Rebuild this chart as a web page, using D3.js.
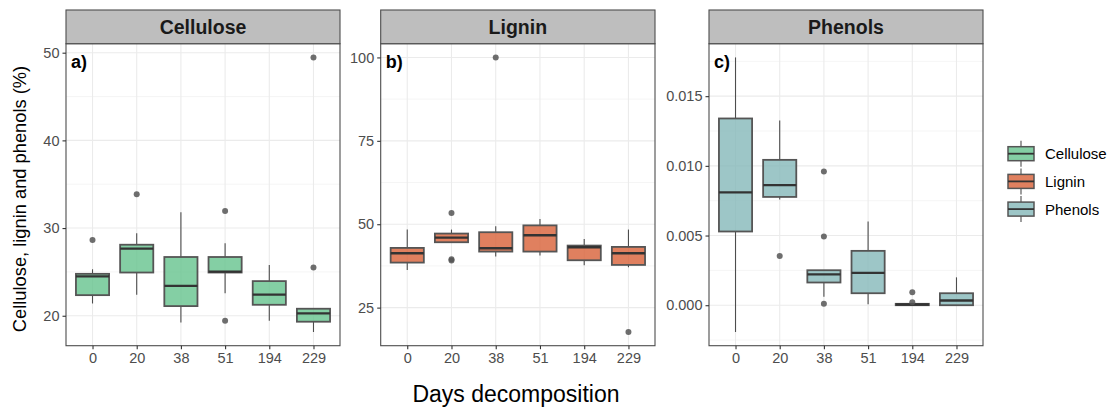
<!DOCTYPE html>
<html><head><meta charset="utf-8">
<script src="https://cdn.jsdelivr.net/npm/d3@7"></script>
<style>body{margin:0;background:#fff}svg{display:block;font-family:"Liberation Sans",Arial,sans-serif}</style>
</head><body><svg id="c" width="1114" height="408"></svg>
<script>
const days = ["0","20","38","51","194","229"];
const seriesNames = ["Cellulose","Lignin","Phenols"];
const panelLabels = ["a)","b)","c)"];
// five-number summaries per day: [lower whisker, q1, median, q3, upper whisker]
const celluloseStats = [
  [21.4,22.35,24.5,24.78,25.3],
  [22.4,24.93,27.66,28.1,29.4],
  [19.24,21.1,23.4,26.7,31.8],
  [22.58,24.93,25.04,26.7,28.27],
  [19.43,21.25,22.42,23.95,25.8],
  [18.15,19.32,20.26,20.8,20.8]
];
const celluloseOutliers = [[28.65],[33.85],[],[31.95,19.43],[],[25.5,49.46]];
const ligninStats = [
  [36.3,38.5,41.3,42.9,48.4],
  [44.6,44.6,46.0,47.2,48.4],
  [40.3,41.8,42.8,47.6,49.4],
  [40.6,41.8,46.7,49.65,51.55],
  [37.7,39.2,43.1,43.6,45.6],
  [37.1,37.8,41.3,43.2,48.4]
];
const ligninOutliers = [[],[53.35,39.1,39.5],[100],[],[],[17.7]];
const phenolsStats = [
  [-0.00192,0.00529,0.00809,0.0134,0.01778],
  [0.00758,0.00777,0.00861,0.01043,0.01325],
  [0.0006,0.00163,0.00222,0.00251,0.00251],
  [0.00007,0.00086,0.00232,0.0039,0.006],
  [0.0,0.0,0.00005,0.0001,0.0001],
  [0.0,0.0,0.00034,0.00086,0.002]
];
const phenolsOutliers = [[],[0.00354],[0.0096,0.00493,0.0001],[],[0.00093,0.00022],[]];
const celluloseTicks = [20,30,40,50];
const ligninTicks = [25,50,75,100];
const phenolsTicks = [0,0.005,0.010,0.015];
const celluloseMinor = [25,35,45];
const ligninMinor = [37.5,62.5,87.5];
const phenolsMinor = [-0.0025,0.0025,0.0075,0.0125,0.0175];

const fills = ["#65c38d","#d86037","#85b8b9"];
const panels = [
  {stats:celluloseStats,out:celluloseOutliers,ticks:celluloseTicks,minor:celluloseMinor,fmt:d3.format("d"),x0:66,x1:340},
  {stats:ligninStats,out:ligninOutliers,ticks:ligninTicks,minor:ligninMinor,fmt:d3.format("d"),x0:380.7,x1:655},
  {stats:phenolsStats,out:phenolsOutliers,ticks:phenolsTicks,minor:phenolsMinor,fmt:d3.format(".3f"),x0:709,x1:983}
];
const stripTop=10, stripBot=43.7, panBot=345.7;
const svg = d3.select("#c");

panels.forEach((p,i)=>{
  const all = p.stats.flat().concat(p.out.flat());
  const lo=d3.min(all), hi=d3.max(all), ex=(hi-lo)*0.05;
  const y = d3.scaleLinear().domain([lo-ex,hi+ex]).range([panBot,stripBot]);
  const w=p.x1-p.x0, unit=w/6.2;
  const x = d3.scalePoint().domain(days).range([p.x0+0.6*unit,p.x1-0.6*unit]);
  const g = svg.append("g");
  // grid
  g.selectAll(".mn").data(p.minor.filter(v=>v>y.domain()[0]&&v<y.domain()[1])).join("line")
    .attr("x1",p.x0).attr("x2",p.x1).attr("y1",d=>y(d)).attr("y2",d=>y(d)).attr("stroke","#f2f2f2").attr("stroke-width",0.8);
  g.selectAll(".mj").data(p.ticks).join("line")
    .attr("x1",p.x0).attr("x2",p.x1).attr("y1",d=>y(d)).attr("y2",d=>y(d)).attr("stroke","#ebebeb").attr("stroke-width",1.1);
  g.selectAll(".vx").data(days).join("line")
    .attr("x1",d=>x(d)).attr("x2",d=>x(d)).attr("y1",stripBot).attr("y2",panBot).attr("stroke","#ebebeb").attr("stroke-width",1.1);
  const bw = unit*0.75;
  days.forEach((d,j)=>{
    const s=p.stats[j], cx=x(d);
    g.append("line").attr("x1",cx).attr("x2",cx).attr("y1",y(s[0])).attr("y2",y(s[1])).attr("stroke","#4d4d4d").attr("stroke-width",1.1);
    g.append("line").attr("x1",cx).attr("x2",cx).attr("y1",y(s[3])).attr("y2",y(s[4])).attr("stroke","#4d4d4d").attr("stroke-width",1.1);
    g.append("rect").attr("x",cx-bw/2).attr("width",bw).attr("y",y(s[3])).attr("height",Math.max(0.01,y(s[1])-y(s[3])))
      .attr("fill",fills[i]).attr("fill-opacity",0.8).attr("stroke","#555").attr("stroke-width",1.8);
    g.append("line").attr("x1",cx-bw/2).attr("x2",cx+bw/2).attr("y1",y(s[2])).attr("y2",y(s[2])).attr("stroke","#333").attr("stroke-width",2.3);
    g.selectAll(null).data(p.out[j]).join("circle").attr("cx",cx).attr("cy",v=>y(v)).attr("r",3).attr("fill","#555").attr("fill-opacity",0.85);
  });
  // panel border
  g.append("rect").attr("x",p.x0).attr("y",stripBot).attr("width",w).attr("height",panBot-stripBot).attr("fill","none").attr("stroke","#4d4d4d").attr("stroke-width",1.1);
  // strip
  g.append("rect").attr("x",p.x0).attr("y",stripTop).attr("width",w).attr("height",stripBot-stripTop).attr("fill","#bebebe").attr("stroke","#4d4d4d").attr("stroke-width",1.1);
  g.append("text").attr("x",(p.x0+p.x1)/2).attr("y",(stripTop+stripBot)/2+7).attr("text-anchor","middle")
    .attr("font-size",19.5).attr("font-weight","bold").attr("fill","#1a1a1a").text(seriesNames[i]);
  g.append("text").attr("x",p.x0+5).attr("y",stripBot+24).attr("font-size",18).attr("font-weight","bold").attr("fill","#000").text(panelLabels[i]);
  // axes
  const ya = g.append("g").attr("transform",`translate(${p.x0},0)`).call(d3.axisLeft(y).tickValues(p.ticks).tickFormat(p.fmt).tickSize(3.5).tickPadding(3));
  const xa = g.append("g").attr("transform",`translate(0,${panBot})`).call(d3.axisBottom(x).tickSize(3.5).tickPadding(4));
  [ya,xa].forEach(a=>{a.select(".domain").remove();a.selectAll(".tick line").attr("stroke","#333").attr("stroke-width",1.1);
    a.selectAll("text").attr("fill","#4d4d4d").attr("font-size",14.5).attr("font-family","Liberation Sans, Arial, sans-serif");});
});

svg.append("text").attr("transform","translate(26,199) rotate(-90)").attr("text-anchor","middle").attr("font-size",18.3).attr("fill","#000").text("Cellulose, lignin and phenols (%)");
svg.append("text").attr("x",516).attr("y",402).attr("text-anchor","middle").attr("font-size",23).attr("fill","#000").text("Days decomposition");

// legend
const lg = svg.append("g");
seriesNames.forEach((n,i)=>{
  const cy = 153.7 + i*27.7, cx=1021;
  lg.append("line").attr("x1",cx).attr("x2",cx).attr("y1",cy-13).attr("y2",cy+13).attr("stroke","#4d4d4d").attr("stroke-width",1.1);
  lg.append("rect").attr("x",1008).attr("y",cy-7).attr("width",26).attr("height",14).attr("fill","#fff");
  lg.append("rect").attr("x",1008).attr("y",cy-7).attr("width",26).attr("height",14).attr("fill",fills[i]).attr("fill-opacity",0.8).attr("stroke","#555").attr("stroke-width",1.5);
  lg.append("line").attr("x1",1008).attr("x2",1034).attr("y1",cy).attr("y2",cy).attr("stroke","#333").attr("stroke-width",1.8);
  lg.append("text").attr("x",1045).attr("y",cy+5.5).attr("font-size",15).attr("fill","#000").text(n);
});
</script></body></html>
